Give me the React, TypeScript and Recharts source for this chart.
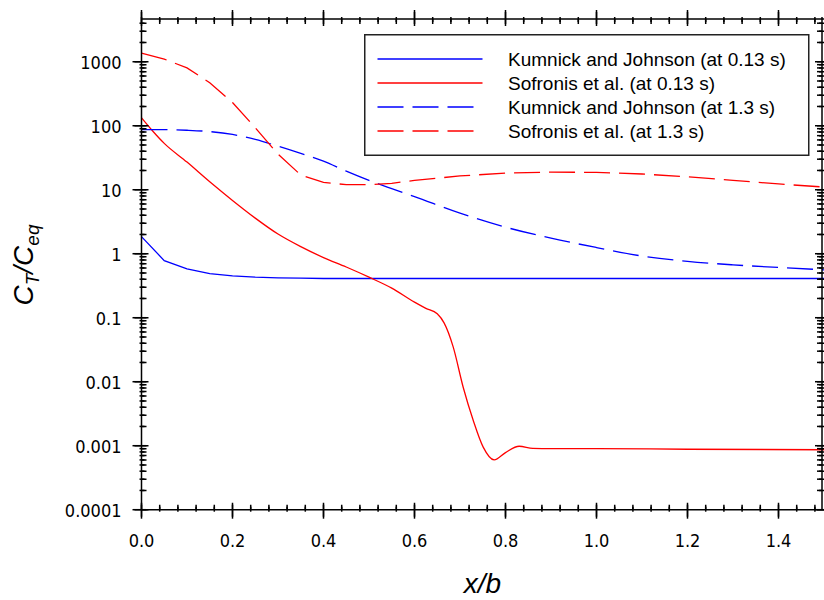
import React from 'react';
import { LineChart, Line, XAxis, YAxis, Legend, ReferenceLine } from 'recharts';

// Axis ticks and labels
const xTicksMajor = [0, 0.2, 0.4, 0.6, 0.8, 1.0, 1.2, 1.4];
const xTickLabels = ['0.0', '0.2', '0.4', '0.6', '0.8', '1.0', '1.2', '1.4'];
const yTicksMajor = [0.0001, 0.001, 0.01, 0.1, 1, 10, 100, 1000];
const yTickLabels = ['0.0001', '0.001', '0.01', '0.1', '1', '10', '100', '1000'];

// Kumnick and Johnson, t = 0.13 s
const kjShortX = [0, 0.05, 0.1, 0.15, 0.2, 0.25, 0.3, 0.35, 0.4, 0.6, 0.8, 1.0, 1.2, 1.5];
const kjShortY = [1.85, 0.78, 0.58, 0.49, 0.45, 0.43, 0.42, 0.415, 0.41, 0.41, 0.41, 0.41, 0.41, 0.41];

// Sofronis et al., t = 0.13 s
const sofShortX = [0, 0.025, 0.05, 0.1, 0.15, 0.2, 0.25, 0.3, 0.35, 0.4, 0.45, 0.5, 0.55, 0.6, 0.625, 0.65, 0.665, 0.685, 0.707, 0.729, 0.751, 0.775, 0.8, 0.83, 0.86, 0.9, 1.0, 1.2, 1.5];
const sofShortY = [133, 82, 53, 27, 13.3, 6.8, 3.6, 2.03, 1.29, 0.87, 0.62, 0.43, 0.29, 0.175, 0.14, 0.115, 0.083, 0.035, 0.0082, 0.0025, 0.00095, 0.0006, 0.00078, 0.00098, 0.00091, 0.0009, 0.0009, 0.00088, 0.000865];

// Kumnick and Johnson, t = 1.3 s
const kjLongX = [0, 0.05, 0.1, 0.15, 0.2, 0.25, 0.3, 0.35, 0.4, 0.45, 0.5, 0.55, 0.6, 0.7, 0.8, 0.9, 1.0, 1.1, 1.2, 1.3, 1.4, 1.5];
const kjLongY = [87, 87, 85, 81, 73, 61, 48, 37, 28, 19.5, 14, 10.4, 7.8, 4.3, 2.6, 1.75, 1.25, 0.92, 0.76, 0.67, 0.61, 0.56];

// Sofronis et al., t = 1.3 s
const sofLongX = [0, 0.05, 0.1, 0.15, 0.2, 0.25, 0.3, 0.35, 0.4, 0.45, 0.5, 0.55, 0.6, 0.7, 0.8, 0.9, 1.0, 1.1, 1.2, 1.3, 1.4, 1.5];
const sofLongY = [1360, 1100, 800, 470, 230, 93, 36, 17, 13, 12, 12, 12.6, 14, 16.4, 18.2, 18.8, 18.7, 17.6, 15.9, 14, 12.3, 11];

const toPoints = (xs: number[], ys: number[]) => xs.map((x, i) => ({ x, y: ys[i] }));

const series = [
  { key: 'kj013', name: 'Kumnick and Johnson (at 0.13 s)', color: '#0000ff', dash: undefined as string | undefined, curve: 'linear', data: toPoints(kjShortX, kjShortY) },
  { key: 'sof013', name: 'Sofronis et al. (at 0.13 s)', color: '#ff0000', dash: undefined as string | undefined, curve: 'monotone', data: toPoints(sofShortX, sofShortY) },
  { key: 'kj13', name: 'Kumnick and Johnson (at 1.3 s)', color: '#0000ff', dash: '26 9', curve: 'monotone', data: toPoints(kjLongX, kjLongY) },
  { key: 'sof13', name: 'Sofronis et al. (at 1.3 s)', color: '#ff0000', dash: '26 9', curve: 'linear', data: toPoints(sofLongX, sofLongY) },
];

// tick positions: majors plus minor ticks every 0.04 along x and 2..9 per decade along y
const xTicksAll = Array.from({ length: 38 }, (_, i) => Math.round(i * 4) / 100);
const yTicksAll: number[] = [];
for (let e = -4; e <= 3; e++) {
  for (let m = 1; m <= 9; m++) {
    const v = Number((m * Math.pow(10, e)).toPrecision(6));
    if (v < 5000) yTicksAll.push(v);
  }
}

const xMajorIndex = (v: number) => xTicksMajor.findIndex((t) => Math.abs(t - v) < 1e-6);
const yMajorIndex = (v: number) => yTicksMajor.findIndex((t) => Math.abs(Math.log10(t) - Math.log10(v)) < 1e-6);

// chart geometry
const CHART_W = 824;
const CHART_H = 600;
const MARGIN = { top: 17, right: 0, bottom: 30.3, left: 61.5 };
const Y_AXIS_W = 80;
const X_AXIS_H = 60;
const PLOT_W = CHART_W - MARGIN.left - MARGIN.right - Y_AXIS_W;
const PLOT_H = CHART_H - MARGIN.top - MARGIN.bottom - X_AXIS_H;

const TICK_FONT = '"DejaVu Sans Condensed", "DejaVu Sans", sans-serif';
const TEXT_FONT = '"Liberation Sans", Arial, sans-serif';
const INK = '#000';
const TW = 1.5;
const MAJOR = 7;
const MINOR = 5;

const ok = (...n: any[]) => n.every((v) => typeof v === 'number' && isFinite(v));

// Bottom axis ticks; each tick also marks the opposite (top) side of the frame.
const BottomTick = (p: any) => {
  const v = p.payload.value;
  const i = xMajorIndex(v);
  const top = p.y - PLOT_H;
  const frame = Math.abs(v) < 1e-9 ? <path d={`M${p.x},${top}H${p.x + PLOT_W}`} stroke={INK} strokeWidth={TW} fill="none" /> : null;
  if (i < 0) {
    return (
      <g>
        <path d={`M${p.x},${p.y - MINOR}V${p.y}`} stroke={INK} strokeWidth={TW} fill="none" />
        <path d={`M${p.x},${top}V${top + MINOR}`} stroke={INK} strokeWidth={TW} fill="none" />
      </g>
    );
  }
  return (
    <g>
      {frame}
      <path d={`M${p.x},${p.y - MAJOR}V${p.y + MAJOR}`} stroke={INK} strokeWidth={TW} fill="none" />
      <path d={`M${p.x},${top - MAJOR}V${top + MAJOR}`} stroke={INK} strokeWidth={TW} fill="none" />
      <text x={p.x} y={p.y + 35.5} textAnchor="middle" fontFamily={TICK_FONT} fontSize={18} fill="#000">
        {xTickLabels[i]}
      </text>
    </g>
  );
};

// Left axis ticks; each tick also marks the opposite (right) side of the frame.
const LeftTick = (p: any) => {
  const v = p.payload.value;
  const i = yMajorIndex(v);
  const right = p.x + PLOT_W;
  const frame = i === 0 ? <path d={`M${right},${p.y}V${p.y - PLOT_H}`} stroke={INK} strokeWidth={TW} fill="none" /> : null;
  if (i < 0) {
    return (
      <g>
        <path d={`M${p.x},${p.y}H${p.x + MINOR}`} stroke={INK} strokeWidth={TW} fill="none" />
        <path d={`M${right - MINOR},${p.y}H${right}`} stroke={INK} strokeWidth={TW} fill="none" />
      </g>
    );
  }
  return (
    <g>
      {frame}
      <path d={`M${p.x - MAJOR},${p.y}H${p.x + MAJOR}`} stroke={INK} strokeWidth={TW} fill="none" />
      <path d={`M${right - MAJOR},${p.y}H${right + MAJOR}`} stroke={INK} strokeWidth={TW} fill="none" />
      <text x={p.x - 18} y={p.y + 7} textAnchor="end" fontFamily={TICK_FONT} fontSize={18} fill="#000">
        {yTickLabels[i]}
      </text>
    </g>
  );
};

// Frame tick marks at both ends of a vertical reference line (bottom and top edges).
const vFrameTick = (major: boolean) => (p: any) => {
  if (!ok(p.x1, p.y1, p.y2)) return <g />;
  const yb = Math.max(p.y1, p.y2);
  const yt = Math.min(p.y1, p.y2);
  const d = major
    ? `M${p.x1},${yb - MAJOR}V${yb + MAJOR}M${p.x1},${yt - MAJOR}V${yt + MAJOR}`
    : `M${p.x1},${yb - MINOR}V${yb}M${p.x1},${yt}V${yt + MINOR}`;
  return <path d={d} stroke={INK} strokeWidth={TW} fill="none" />;
};

// Frame tick marks at both ends of a horizontal reference line (left and right edges).
const hFrameTick = (major: boolean) => (p: any) => {
  if (!ok(p.y1, p.x1, p.x2)) return <g />;
  const xl = Math.min(p.x1, p.x2);
  const xr = Math.max(p.x1, p.x2);
  const d = major
    ? `M${xl - MAJOR},${p.y1}H${xl + MAJOR}M${xr - MAJOR},${p.y1}H${xr + MAJOR}`
    : `M${xl},${p.y1}H${xl + MINOR}M${xr - MINOR},${p.y1}H${xr}`;
  return <path d={d} stroke={INK} strokeWidth={TW} fill="none" />;
};

const LegendBox = () => (
  <svg width={446} height={123} style={{ display: 'block' }}>
    <rect x={0.75} y={0.75} width={444} height={120.5} fill="#fff" stroke="#222" strokeWidth={1.5} />
    {series.map((s, i) => {
      const ly = 25 + i * 24;
      return (
        <g key={s.key}>
          <line x1={13.5} x2={s.dash ? 109.5 : 118.5} y1={ly} y2={ly} stroke={s.color} strokeWidth={1.3} strokeDasharray={s.dash} />
          <text x={144} y={ly + 7} fontFamily={TEXT_FONT} fontSize={19} fill="#000">
            {s.name}
          </text>
        </g>
      );
    })}
  </svg>
);

// Axis titles
const Titles = () => (
  <svg width={CHART_W} height={CHART_H} style={{ position: 'absolute', left: 0, top: 0, pointerEvents: 'none' }}>
    <text x={33} y={265} transform="rotate(-90, 33, 265)" textAnchor="middle" fontFamily={TEXT_FONT} fontStyle="italic" fontSize={28} fill="#000">
      <tspan>C</tspan>
      <tspan fontSize={19} dy={6}>T</tspan>
      <tspan fontSize={28} dy={-6}>/C</tspan>
      <tspan fontSize={19} dy={6}>eq</tspan>
    </text>
    <text x={482.5} y={593} textAnchor="middle" fontFamily={TEXT_FONT} fontStyle="italic" fontSize={28} fill="#000">
      x/b
    </text>
  </svg>
);

export default function App() {
  const axisLine = { stroke: INK, strokeWidth: TW };
  return (
    <div style={{ position: 'absolute', left: 0, top: 0, width: CHART_W, height: CHART_H }}>
      <LineChart width={CHART_W} height={CHART_H} margin={MARGIN}>
        <XAxis xAxisId="b" dataKey="x" type="number" domain={[0, 1.5]} ticks={xTicksAll} interval={0} height={X_AXIS_H}
          axisLine={axisLine} tickLine={false} tickSize={0} tick={BottomTick} />
        <YAxis yAxisId="l" dataKey="y" type="number" scale="log" domain={[0.0001, 5000]} ticks={yTicksAll} interval={0} width={Y_AXIS_W}
          axisLine={axisLine} tickLine={false} tickSize={0} tick={LeftTick} allowDataOverflow />
        {series.map((s) => (
          <Line
            key={s.key}
            xAxisId="b"
            yAxisId="l"
            data={s.data}
            dataKey="y"
            name={s.name}
            type={s.curve as any}
            stroke={s.color}
            strokeWidth={1.3}
            strokeDasharray={s.dash}
            dot={false}
            activeDot={false}
            isAnimationActive={false}
          />
        ))}
        {xTicksAll.map((v) => (
          <ReferenceLine key={`vx${v}`} xAxisId="b" yAxisId="l" x={v} stroke="none" isFront shape={vFrameTick(xMajorIndex(v) >= 0)} />
        ))}
        {yTicksAll.map((v) => (
          <ReferenceLine key={`hy${v}`} xAxisId="b" yAxisId="l" y={v} stroke="none" isFront shape={hFrameTick(yMajorIndex(v) >= 0)} />
        ))}
        <Legend layout="vertical" align="center" verticalAlign="middle"
          wrapperStyle={{ left: 364, top: 34, width: 446, height: 123 }} content={LegendBox} />
      </LineChart>
      <Titles />
    </div>
  );
}
